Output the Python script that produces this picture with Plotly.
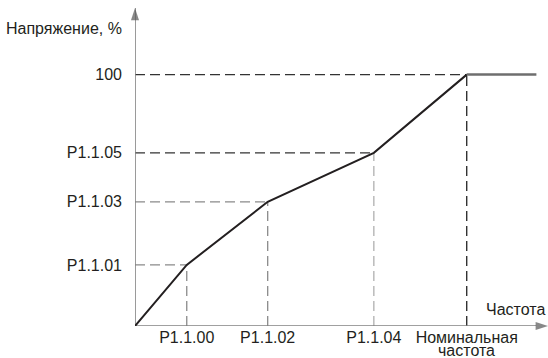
import plotly.graph_objects as go

# points of the V/f curve (% of nominal frequency, % of voltage)
freq = [0, 15.6, 40, 72, 100, 121]
volt = [0, 24.3, 49.4, 68.9, 100, 100]

x_ticks = ["P1.1.00", "P1.1.02", "P1.1.04", "Номинальная"]
y_ticks = ["P1.1.01", "P1.1.03", "P1.1.05", "100"]

h_colors = ["#8a8a8a", "#8a8a8a", "#333333", "#333333"]
v_colors = ["#8a8a8a", "#8a8a8a", "#b0b0b0", "#222222"]

x_max = 124.5
y_max = 126.5
font = dict(family="Liberation Sans", size=16, color="#231f20")

fig = go.Figure()

# dashed guides
for i in range(1, 5):
    fig.add_trace(go.Scatter(x=[0, freq[i]], y=[volt[i], volt[i]], mode="lines",
                             line=dict(color=h_colors[i - 1], width=1.3, dash="10px,5px"),
                             hoverinfo="skip", showlegend=False))
    fig.add_trace(go.Scatter(x=[freq[i], freq[i]], y=[0, volt[i]], mode="lines",
                             line=dict(color=v_colors[i - 1], width=1.3, dash="10px,5px"),
                             hoverinfo="skip", showlegend=False))

# axes with arrowheads
for ax_x, ax_y in [([0, x_max], [0, 0]), ([0, 0], [0, y_max])]:
    fig.add_trace(go.Scatter(x=ax_x, y=ax_y, mode="lines+markers", cliponaxis=False,
                             line=dict(color="#808080", width=1.6),
                             marker=dict(symbol="arrow", angleref="previous", size=[0, 13],
                                         color="#555555", line=dict(width=0)),
                             hoverinfo="skip", showlegend=False))

# the curve
fig.add_trace(go.Scatter(x=freq[:5], y=volt[:5], mode="lines", cliponaxis=False,
                         line=dict(color="#231f20", width=2), showlegend=False))
fig.add_trace(go.Scatter(x=freq[4:], y=volt[4:], mode="lines",
                         line=dict(color="#6e6e6e", width=2.5), showlegend=False))

# axis titles
fig.add_annotation(x=0, y=y_max, xref="x", yref="y", text="Напряжение, %",
                   showarrow=False, xanchor="right", yanchor="middle", xshift=-11, yshift=-20,
                   font=font)
fig.add_annotation(x=x_max, y=0, xref="x", yref="y", text="Частота",
                   showarrow=False, xanchor="right", yanchor="bottom", xshift=-1, yshift=6,
                   font=font)
fig.add_annotation(x=freq[4], y=0, xref="x", yref="y", text="частота",
                   showarrow=False, xanchor="center", yanchor="middle", yshift=-24,
                   font=font)

fig.update_xaxes(range=[0, x_max], tickvals=freq[1:5], ticktext=x_ticks,
                 showgrid=False, zeroline=False, showline=False, ticks="",
                 tickfont=font, ticklabelstandoff=0, automargin=False)
fig.update_yaxes(range=[0, y_max], tickvals=volt[1:5], ticktext=y_ticks,
                 showgrid=False, zeroline=False, showline=False, ticks="",
                 tickfont=font, ticklabelstandoff=12, automargin=False)

fig.update_layout(width=548, height=358, plot_bgcolor="white", paper_bgcolor="white",
                  margin=dict(l=135, r=0, t=8, b=32), showlegend=False)

fig.write_html("out.html", config={"displayModeBar": False},
               post_script="document.body.style.margin='0';")
